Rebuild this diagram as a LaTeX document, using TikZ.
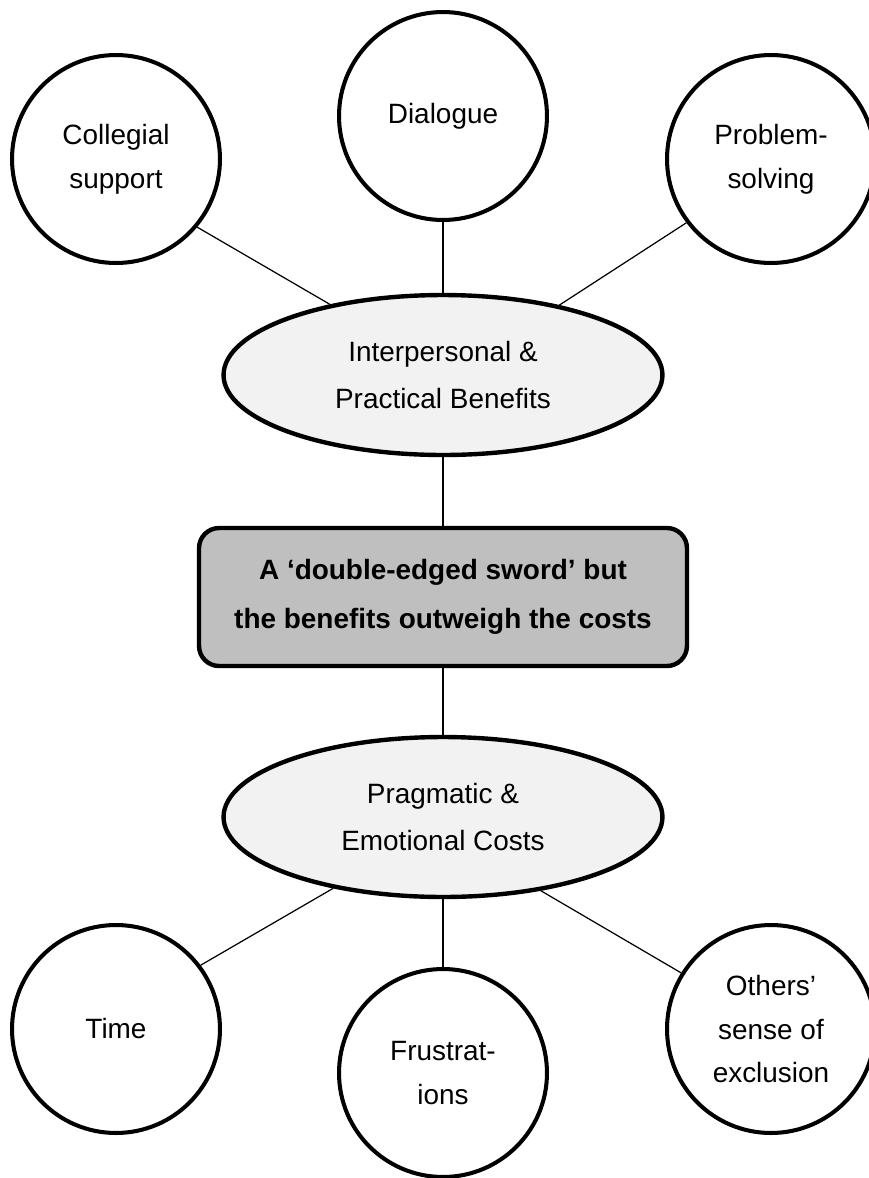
\documentclass[tikz,border=0pt]{standalone}
\usepackage{fontspec}
\setmainfont{Liberation Sans}
\usetikzlibrary{shapes.geometric}
\definecolor{pale1}{HTML}{F2F2F2}
\definecolor{grey1}{HTML}{BFBFBF}

\begin{document}
\begin{tikzpicture}[
    x=0.02cm, y=-0.02cm,
    topic/.style={draw, circle, line width=2.3pt, minimum size=4.16cm,
                  inner sep=0pt, align=center,
                  font=\fontsize{15.9}{24.8}\selectfont},
    theme/.style={draw, ellipse, line width=2.5pt, fill=pale1,
                  minimum width=8.78cm, minimum height=3.2cm,
                  inner sep=0pt, align=center,
                  font=\fontsize{15.9}{26.8}\selectfont},
    core/.style={draw, rounded corners=0.4cm, line width=2.5pt, fill=grey1,
                 minimum width=9.76cm, minimum height=2.76cm, align=center,
                 font=\bfseries\fontsize{15.9}{27.9}\selectfont},
    link/.style={line width=0.7pt},
]
\useasboundingbox (0,0) rectangle (869,1178);

% benefits side
\node[topic] (coll) at (116,159) {Collegial\\support};
\node[topic] (dial) at (443,116) {Dialogue};
\node[topic] (prob) at (771,159) {Problem-\\solving};
\node[theme] (ben) at (443,375) {Interpersonal \&\\Practical Benefits};

\draw[link] (coll.-40) -- (ben.148);
\draw[link] (dial) -- (ben);
\draw[link] (prob.-143) -- (ben.31);

% centre
\node[core] (sword) at (443,597)
    {A ‘double-edged sword’ but\\the benefits outweigh the costs};
\draw[link] (ben) -- (sword);

% costs side
\node[theme] (cost) at (443,817) {Pragmatic \&\\Emotional Costs};
\draw[link] (sword) -- (cost);

\node[topic] (time) at (116,1029) {Time};
\node[topic] (frus) at (443,1073) {Frustrat-\\ions};
\node[topic] (excl) at (771,1029) {Others’\\sense of\\exclusion};

\draw[link] (time.37) -- (cost.213);
\draw[link] (cost) -- (frus);
\draw[link] (excl.148) -- (cost.-37);
\end{tikzpicture}
\end{document}
